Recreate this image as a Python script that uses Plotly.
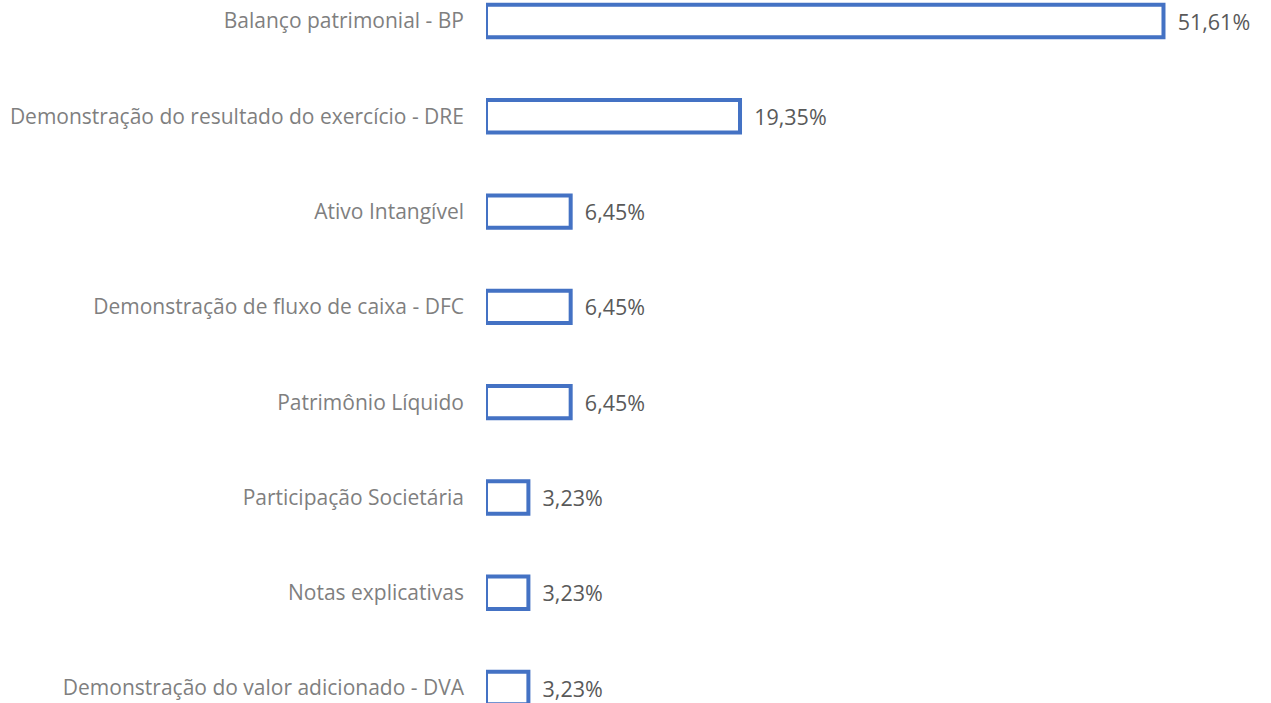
import plotly.graph_objects as go

categories = [
    "Balanço patrimonial - BP",
    "Demonstração do resultado do exercício - DRE",
    "Ativo Intangível",
    "Demonstração de fluxo de caixa - DFC",
    "Patrimônio Líquido",
    "Participação Societária",
    "Notas explicativas",
    "Demonstração do valor adicionado - DVA",
]
values = [51.61, 19.35, 6.45, 6.45, 6.45, 3.23, 3.23, 3.23]
value_labels = ["51,61%", "19,35%", "6,45%", "6,45%", "6,45%", "3,23%", "3,23%", "3,23%"]

fig = go.Figure(go.Bar(
    x=values,
    y=categories,
    orientation="h",
    marker=dict(color="white", line=dict(color="#4472C4", width=4)),
    text=["  " + t for t in value_labels],
    textposition="outside",
    textfont=dict(family="Open Sans", size=21.5, color="#595959"),
    cliponaxis=False,
    hoverinfo="skip",
))

fig.update_layout(
    width=1271,
    height=703,
    margin=dict(l=486, r=0, t=0, b=0),
    paper_bgcolor="white",
    plot_bgcolor="white",
    bargap=0.66,
    showlegend=False,
    xaxis=dict(range=[0, 59.8], visible=False, showgrid=False, zeroline=False),
    yaxis=dict(
        range=[7.157, -0.2204],
        showgrid=False,
        zeroline=False,
        showline=False,
        ticks="",
        ticklabelstandoff=21,
        tickfont=dict(family="Open Sans", size=21, color="#7f7f7f"),
    ),
)

fig.write_html(
    "out.html",
    config={"displayModeBar": False, "staticPlot": True},
    post_script="document.body.style.margin='0';document.body.style.overflow='hidden';",
)
